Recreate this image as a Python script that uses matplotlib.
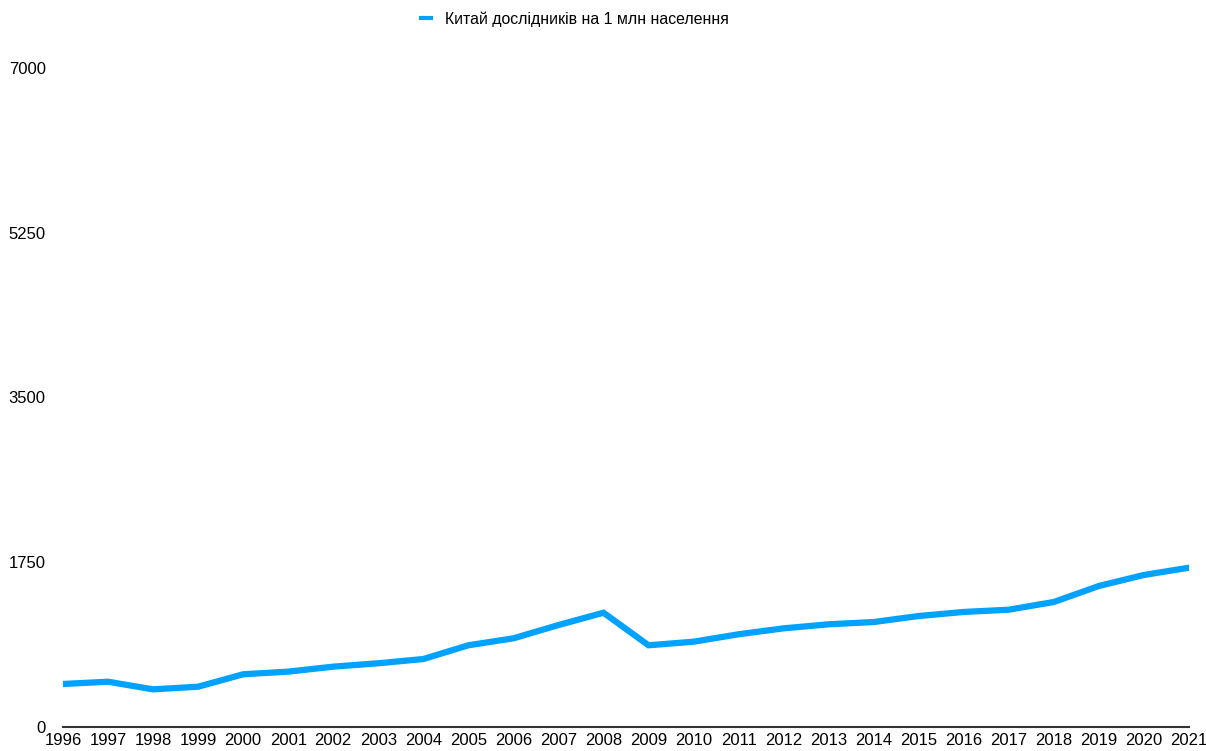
import matplotlib.pyplot as plt
from matplotlib.lines import Line2D

plt.rcParams['font.family'] = ['Liberation Sans', 'DejaVu Sans']

years = list(range(1996, 2022))
researchers = [457, 481, 400, 428, 560, 588, 641, 677, 722, 868, 942, 1083, 1214,
               868, 906, 985, 1048, 1091, 1115, 1179, 1222, 1246, 1328, 1498, 1615, 1692]
yticks = [0, 1750, 3500, 5250, 7000]
label = 'Китай дослідників на 1 млн населення'
color = '#00A2FF'

fig = plt.figure(figsize=(12.06, 7.51), dpi=100)
ax = fig.add_axes([63 / 1206, 24 / 751, 1126 / 1206, 659 / 751])

ax.plot(years, researchers, color=color, linewidth=4.5, solid_joinstyle='miter')

ax.set_xlim(1996, 2021)
ax.set_ylim(0, 7000)
ax.set_xticks(years)
ax.set_yticks(yticks)
ax.tick_params(axis='both', length=0, labelsize=12, colors='black')
ax.tick_params(axis='y', pad=12.5)
ax.tick_params(axis='x', pad=4)

for s in ['top', 'right', 'left']:
    ax.spines[s].set_visible(False)
ax.spines['bottom'].set_color('#333333')
ax.spines['bottom'].set_linewidth(1.5)

handle = Line2D([], [], color=color, linewidth=3)
fig.legend([handle], [label], loc='center', bbox_to_anchor=(575 / 1206, 1 - 19 / 751),
           frameon=False, fontsize=11.4, handlelength=0.6, handletextpad=0.9)

fig.savefig('out.png', dpi=100)
